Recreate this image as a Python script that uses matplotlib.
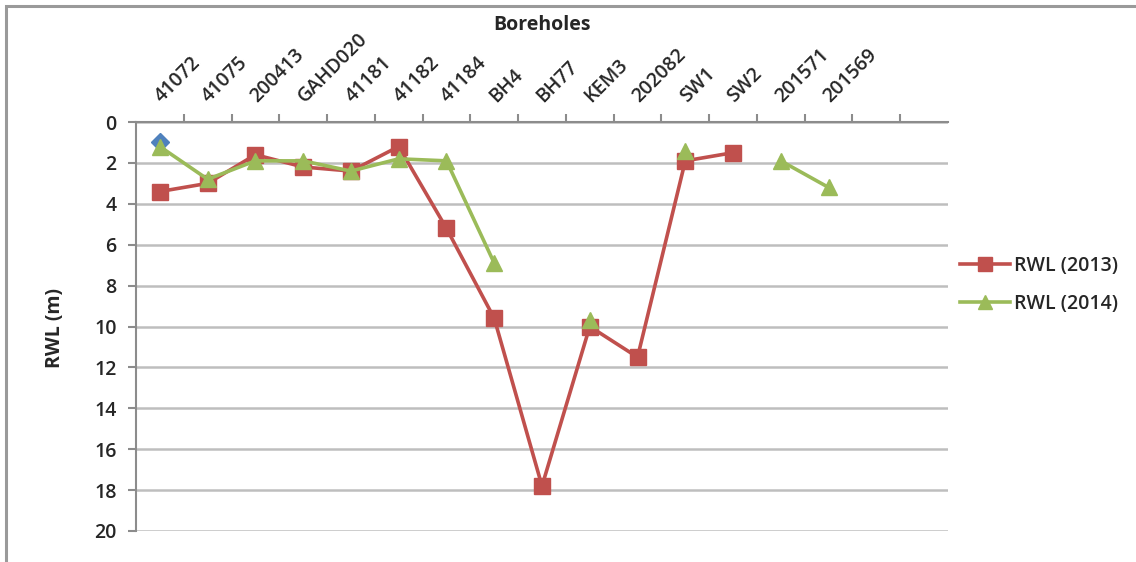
import numpy as np
import matplotlib
matplotlib.use("Agg")
import matplotlib.pyplot as plt
from matplotlib.patches import Rectangle

plt.rcParams['font.family'] = ['Open Sans', 'DejaVu Sans']

# Borehole names (two trailing empty categories, as in the source chart)
boreholes = ['41072', '41075', '200413', 'GAHD020', '41181', '41182', '41184', 'BH4',
             'BH77', 'KEM3', '202082', 'SW1', 'SW2', '201571', '201569', '', '']

nan = np.nan
rwl_2013 = [3.4, 3.0, 1.6, 2.2, 2.4, 1.2, 5.2, 9.6, 17.8, 10.0, 11.5, 1.9, 1.5, nan, nan, nan, nan]
rwl_2014 = [1.2, 2.8, 1.9, 1.9, 2.4, 1.8, 1.9, 6.9, nan, 9.7, nan, 1.4, nan, 1.9, 3.2, nan, nan]
rwl_extra = [1.0] + [nan] * 16   # stray single point (blue diamond)

red = '#C0504D'
green = '#9BBB59'
blue = '#4F81BD'
grid_col = '#BEBEBE'
txt = '#262626'
fs = 14

fig = plt.figure(figsize=(11.36, 5.62), dpi=100)
# outer chart frame
fig.patches.append(Rectangle((6 / 1136, -0.1), 1.2, 1 - 6 / 562 + 0.1, transform=fig.transFigure,
                             fill=False, edgecolor='#9A9A9A', linewidth=2.2))

ax = fig.add_axes([136 / 1136, 1 - 531 / 562, (948 - 136) / 1136, (531 - 122) / 562])

x = np.arange(len(boreholes))
ax.plot(x, rwl_extra, marker='D', color=blue, markersize=9, linestyle='none', zorder=3)
ax.plot(x, rwl_2013, marker='s', color=red, markersize=12, linewidth=2.6, label='RWL (2013)', zorder=4)
ax.plot(x, rwl_2014, marker='^', color=green, markersize=12, linewidth=2.6, label='RWL (2014)', zorder=5)

ax.set_xlim(-0.5, len(boreholes) - 0.5)
ax.set_ylim(20, 0)
ax.set_yticks(np.arange(0, 21, 2))
ax.yaxis.grid(True, color=grid_col, linewidth=1.8)
ax.set_axisbelow(True)

# category axis on top, ticks between categories
ax.xaxis.tick_top()
ax.set_xticks(x[:-1] + 0.5, minor=False)
ax.set_xticklabels([])
ax.tick_params(axis='x', which='major', direction='out', length=6, color='#8C8C8C', width=1.5)
ax.set_xticks(x, minor=True)
ax.set_xticklabels(boreholes, minor=True, rotation=45, ha='left', va='bottom',
                   rotation_mode='anchor', fontsize=fs, color=txt, fontweight='semibold')
ax.tick_params(axis='x', which='minor', length=0, pad=11)
ax.tick_params(axis='y', direction='out', length=6, color='#8C8C8C', width=1.5,
               labelsize=fs, labelcolor=txt, pad=8)
for lab in ax.get_yticklabels():
    lab.set_fontweight('semibold')
# nudge category labels a little right, as in the source
from matplotlib.transforms import ScaledTranslation
for lab in ax.get_xticklabels(minor=True):
    lab.set_transform(lab.get_transform() + ScaledTranslation(5 / 100, 0, fig.dpi_scale_trans))

for side in ['right', 'bottom']:
    ax.spines[side].set_visible(False)
for side in ['left', 'top']:
    ax.spines[side].set_color('#8C8C8C')
    ax.spines[side].set_linewidth(1.5)

fig.text(542 / 1136, 1 - 25 / 562, 'Boreholes', ha='center', va='center',
         fontsize=fs, fontweight='bold', color=txt)
fig.text(55 / 1136, 1 - 328 / 562, 'RWL (m)', ha='center', va='center', rotation=90,
         fontsize=fs, fontweight='bold', color=txt)

handles, labels = ax.get_legend_handles_labels()
leg = fig.legend(handles[-2:], labels[-2:], loc='center left', bbox_to_anchor=(942 / 1136, 1 - 285 / 562),
                 frameon=False, fontsize=fs, handlelength=2.6, handletextpad=0.2, labelspacing=0.95,
                 markerscale=0.85)
for t in leg.get_texts():
    t.set_fontweight('semibold')
    t.set_color(txt)

fig.savefig('out.png', dpi=100)
